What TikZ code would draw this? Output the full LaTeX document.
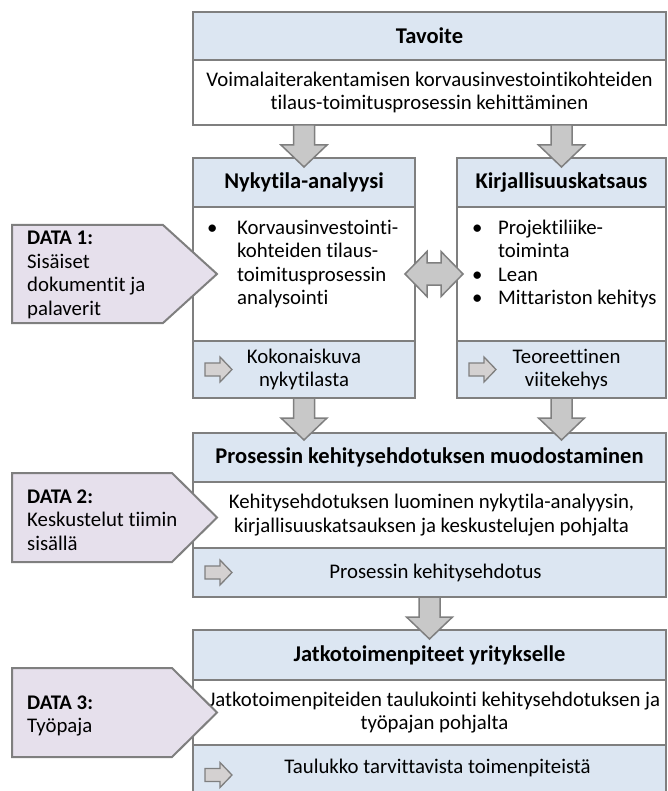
\documentclass[tikz,border=0pt]{standalone}
\usepackage{fontspec}
\setmainfont[Ligatures=NoCommon]{Carlito}
\usetikzlibrary{calc}
\definecolor{hdrblue}{HTML}{DCE6F2}
\definecolor{lav}{HTML}{E6E0EC}
\definecolor{edge}{HTML}{7F7F7F}
\definecolor{arrfill}{HTML}{C8C8C8}
\definecolor{smallfill}{HTML}{D4D1D1}
\newcommand\basefont{\fontsize{20.8}{23.5}\selectfont}
\newcommand\headfont{\fontsize{22.5}{24}\selectfont\bfseries}
\begin{document}
\begin{tikzpicture}[x=1pt,y=-1pt,
  every node/.style={font=\basefont},
  sect/.style={draw=edge, line width=2pt, outer sep=0pt, inner sep=0pt, anchor=north west},
  hdr/.style={sect, fill=hdrblue, font=\headfont},
  body/.style={sect, fill=white},
  foot/.style={sect, fill=hdrblue},
  lbl/.style={inner sep=0pt, align=center},
  bullets/.style={inner sep=0pt, anchor=west},
  datatext/.style={inner sep=0pt, anchor=west, align=left},
  bigarr/.style={draw=edge, fill=arrfill, line width=1.5pt, line join=miter},
  smallarr/.style={draw=edge, fill=smallfill, line width=1.3pt, line join=miter},
  datashape/.style={draw=edge, fill=lav, line width=2pt, line join=miter},
]
\useasboundingbox (0,0) rectangle (667,791);

% --- Tavoite
\node[hdr, minimum width=473pt, minimum height=48pt] (tavH) at (193,12) {Tavoite};
\node[body, minimum width=473pt, minimum height=65pt] (tavB) at (193,60) {};
\node[lbl] (tavT) at (tavB.center) {Voimalaiterakentamisen korvausinvestointikohteiden\\tilaus-toimitusprosessin kehittäminen};

% --- Nykytila-analyysi
\node[hdr, minimum width=222pt, minimum height=49pt] (nykH) at (193,158) {Nykytila-analyysi};
\node[body, minimum width=222pt, minimum height=134pt] (nykB) at (193,207) {};
\node[foot, minimum width=222pt, minimum height=57pt] (nykF) at (193,341) {};
\node[bullets] (nykT) at (207,265) {\begin{tabular}{@{}p{30pt}@{}l@{}}
  \textbullet & Korvausinvestointi-\\ & kohteiden tilaus-\\ & toimitusprosessin\\ & analysointi\end{tabular}};
\node[lbl] (nykFT) at (nykF.center) {Kokonaiskuva\\nykytilasta};

% --- Kirjallisuuskatsaus
\node[hdr, minimum width=209pt, minimum height=49pt] (kirH) at (457,158) {Kirjallisuuskatsaus};
\node[body, minimum width=209pt, minimum height=134pt] (kirB) at (457,207) {};
\node[foot, minimum width=209pt, minimum height=57pt] (kirF) at (457,341) {};
\node[bullets] (kirT) at (472,265) {\begin{tabular}{@{}p{26pt}@{}l@{}}
  \textbullet & Projektiliike-\\ & toiminta\\ \textbullet & Lean\\ \textbullet & Mittariston kehitys\end{tabular}};
\node[lbl] (kirFT) at ($(kirF.center)+(5,0)$) {Teoreettinen\\viitekehys};

% --- Prosessin kehitysehdotuksen muodostaminen
\node[hdr, minimum width=473pt, minimum height=49pt] (proH) at (193,433) {Prosessin kehitysehdotuksen muodostaminen};
\node[body, minimum width=473pt, minimum height=66pt] (proB) at (193,482) {};
\node[foot, minimum width=473pt, minimum height=49pt] (proF) at (193,548) {};
\node[lbl] (proT) at ($(proB.center)+(2,0)$) {Kehitysehdotuksen luominen nykytila-analyysin,\\kirjallisuuskatsauksen ja keskustelujen pohjalta};
\node[lbl] (proFT) at ($(proF.center)+(6,0)$) {Prosessin kehitysehdotus};

% --- Jatkotoimenpiteet yritykselle
\node[hdr, minimum width=473pt, minimum height=50pt] (jatH) at (193,630) {Jatkotoimenpiteet yritykselle};
\node[body, minimum width=473pt, minimum height=65pt] (jatB) at (193,680) {};
\node[foot, minimum width=473pt, minimum height=60pt] (jatF) at (193,745) {};
\node[lbl] (jatT) at ($(jatB.center)+(5,0)$) {Jatkotoimenpiteiden taulukointi kehitysehdotuksen ja\\työpajan pohjalta};
\node[lbl] (jatFT) at ($(jatF.north)+(8,23)$) {Taulukko tarvittavista toimenpiteistä};

% --- block arrows downwards (start point of each arrow)
\coordinate (a1) at (tavB.south -| nykH.north);
\coordinate (a2) at (tavB.south -| kirH.north);
\coordinate (a3) at (nykF.south);
\coordinate (a4) at (kirF.south);
\coordinate (a5) at (proF.south);
\foreach \s in {a1,a2,a3,a4,a5}{
  \draw[bigarr, shift={(\s)}]
    (-10.5,0) -- (-10.5,20) -- (-23,20) -- (0,42) -- (23,20) -- (10.5,20) -- (10.5,0) -- cycle;
}

% --- two-way arrow between the analysis columns
\draw[bigarr, shift={($(nykB.east)!0.5!(kirB.west)+(-2,0)$)}]
  (-29,0) -- (-7,-22.5) -- (-7,-11) -- (7,-11) -- (7,-22.5) -- (29,0)
  -- (7,22.5) -- (7,11) -- (-7,11) -- (-7,22.5) -- cycle;

% --- small result arrows
\foreach \f in {nykF, kirF, proF, jatF}{
  \draw[smallarr, shift={($(\f.west)+(12,0)$)}]
    (0,-6.5) -- (15,-6.5) -- (15,-12.5) -- (27,0) -- (15,12.5) -- (15,6.5) -- (0,6.5) -- cycle;
}

% --- data sources
\draw[datashape] (12,225) -- (163,225) -- (217,274) -- (163,323) -- (12,323) -- cycle;
\node[datatext] (d1) at (27,275) {\textbf{DATA 1:}\\Sisäiset\\dokumentit ja\\palaverit};

\draw[datashape] (12,473) -- (172,473) -- (217,517.5) -- (172,562) -- (12,562) -- cycle;
\node[datatext] (d2) at (27,520) {\textbf{DATA 2:}\\Keskustelut tiimin\\sisällä};

\draw[datashape] (12,668) -- (172,668) -- (217,712.5) -- (172,757) -- (12,757) -- cycle;
\node[datatext] (d3) at (27,716) {\textbf{DATA 3:}\\Työpaja};
\end{tikzpicture}
\end{document}
